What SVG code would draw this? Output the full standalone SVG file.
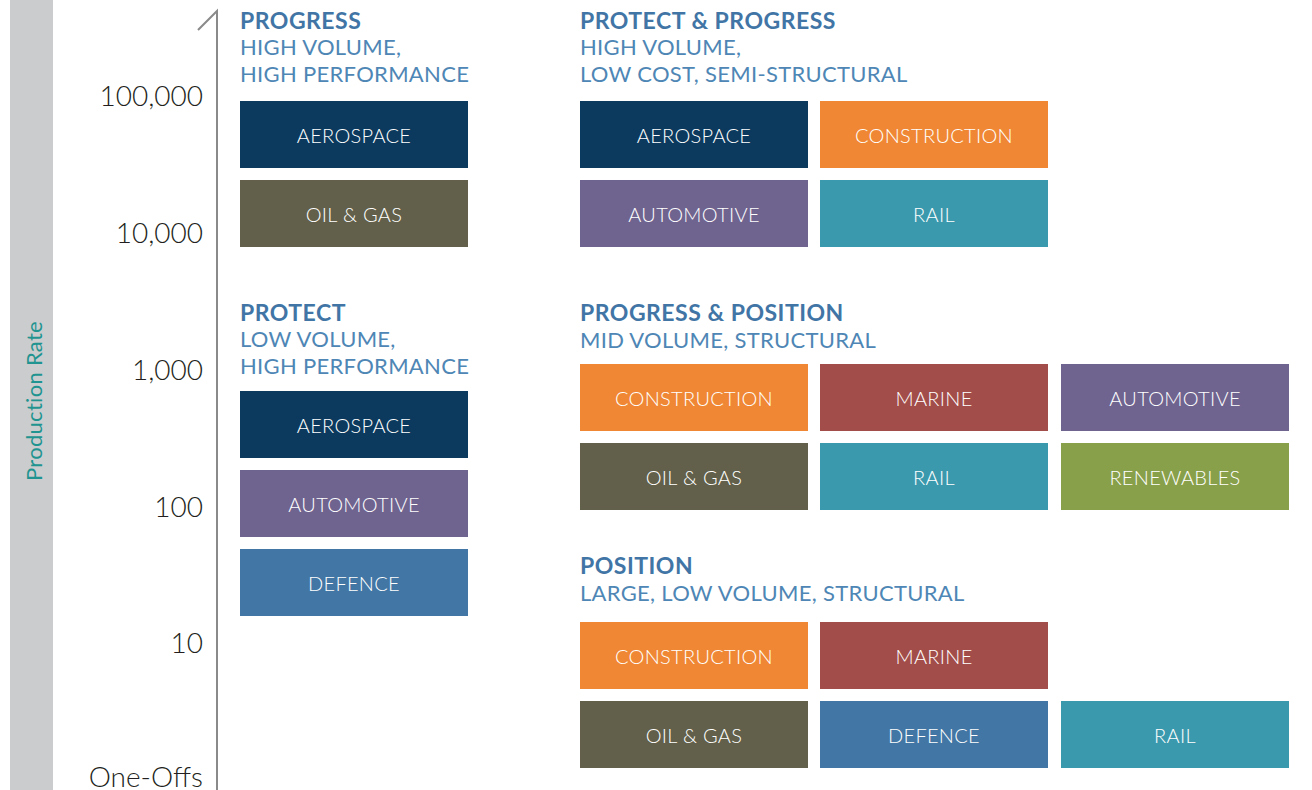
<svg xmlns="http://www.w3.org/2000/svg" width="1312" height="790" viewBox="0 0 1312 790">
<style>
.ax{font-family:Lato,"Open Sans",sans-serif;font-size:28px;fill:#231f20;text-anchor:end;font-weight:300}
.h{font-family:Lato,"Open Sans",sans-serif;font-size:23px;font-weight:700;fill:#4175a6;letter-spacing:0.5px}
.s{font-family:Lato,"Open Sans",sans-serif;font-size:22px;font-weight:400;fill:#4e86b5;letter-spacing:0.3px}
.b text{font-family:Lato,"Open Sans",sans-serif;font-size:20px;font-weight:300;fill:#ffffff;text-anchor:middle;dominant-baseline:central;letter-spacing:0.3px}
.aero{fill:#0b3a5e}.oil{fill:#62604a}.con{fill:#f08734}.auto{fill:#6f648f}.rail{fill:#3a99ad}.mar{fill:#a34d4a}.ren{fill:#89a04a}.def{fill:#4276a4}
</style>
<rect x="10" y="0" width="43" height="790" fill="#cbcccd"/>
<text transform="translate(42,401) rotate(-90)" font-family="Lato,'Open Sans',sans-serif" font-size="22" font-weight="400" letter-spacing="0.3" fill="#1f9490" text-anchor="middle">Production Rate</text>
<g id="axis" fill="none" stroke="#8a8a8a" stroke-width="2">
<path d="M217,790 L217,11 L198,30"/>
</g>
<g id="ticks">
<text class="ax" x="203" y="106">100,000</text>
<text class="ax" x="203" y="243">10,000</text>
<text class="ax" x="203" y="380">1,000</text>
<text class="ax" x="203" y="517">100</text>
<text class="ax" x="203" y="653">10</text>
<text class="ax" x="203" y="787">One-Offs</text>
</g>
<g id="headers">
<text class="h" x="240" y="29">PROGRESS</text>
<text class="s" x="240" y="55">HIGH VOLUME,</text>
<text class="s" x="240" y="82">HIGH PERFORMANCE</text>
<text class="h" x="240" y="321">PROTECT</text>
<text class="s" x="240" y="347">LOW VOLUME,</text>
<text class="s" x="240" y="374">HIGH PERFORMANCE</text>
<text class="h" x="580" y="29">PROTECT &amp; PROGRESS</text>
<text class="s" x="580" y="55">HIGH VOLUME,</text>
<text class="s" x="580" y="82">LOW COST, SEMI-STRUCTURAL</text>
<text class="h" x="580" y="321">PROGRESS &amp; POSITION</text>
<text class="s" x="580" y="348">MID VOLUME, STRUCTURAL</text>
<text class="h" x="580" y="574">POSITION</text>
<text class="s" x="580" y="601">LARGE, LOW VOLUME, STRUCTURAL</text>
</g>
<g id="n1" class="b"><rect class="aero" x="240" y="101" width="228" height="67"/><text x="354" y="135">AEROSPACE</text></g>
<g id="n2" class="b"><rect class="oil" x="240" y="180" width="228" height="67"/><text x="354" y="214">OIL &amp; GAS</text></g>
<g id="n3" class="b"><rect class="aero" x="240" y="391" width="228" height="67"/><text x="354" y="425">AEROSPACE</text></g>
<g id="n4" class="b"><rect class="auto" x="240" y="470" width="228" height="67"/><text x="354" y="504">AUTOMOTIVE</text></g>
<g id="n5" class="b"><rect class="def" x="240" y="549" width="228" height="67"/><text x="354" y="583">DEFENCE</text></g>
<g id="n6" class="b"><rect class="aero" x="580" y="101" width="228" height="67"/><text x="694" y="135">AEROSPACE</text></g>
<g id="n7" class="b"><rect class="con" x="820" y="101" width="228" height="67"/><text x="934" y="135">CONSTRUCTION</text></g>
<g id="n8" class="b"><rect class="auto" x="580" y="180" width="228" height="67"/><text x="694" y="214">AUTOMOTIVE</text></g>
<g id="n9" class="b"><rect class="rail" x="820" y="180" width="228" height="67"/><text x="934" y="214">RAIL</text></g>
<g id="n10" class="b"><rect class="con" x="580" y="364" width="228" height="67"/><text x="694" y="398">CONSTRUCTION</text></g>
<g id="n11" class="b"><rect class="mar" x="820" y="364" width="228" height="67"/><text x="934" y="398">MARINE</text></g>
<g id="n12" class="b"><rect class="auto" x="1061" y="364" width="228" height="67"/><text x="1175" y="398">AUTOMOTIVE</text></g>
<g id="n13" class="b"><rect class="oil" x="580" y="443" width="228" height="67"/><text x="694" y="477">OIL &amp; GAS</text></g>
<g id="n14" class="b"><rect class="rail" x="820" y="443" width="228" height="67"/><text x="934" y="477">RAIL</text></g>
<g id="n15" class="b"><rect class="ren" x="1061" y="443" width="228" height="67"/><text x="1175" y="477">RENEWABLES</text></g>
<g id="n16" class="b"><rect class="con" x="580" y="622" width="228" height="67"/><text x="694" y="656">CONSTRUCTION</text></g>
<g id="n17" class="b"><rect class="mar" x="820" y="622" width="228" height="67"/><text x="934" y="656">MARINE</text></g>
<g id="n18" class="b"><rect class="oil" x="580" y="701" width="228" height="67"/><text x="694" y="735">OIL &amp; GAS</text></g>
<g id="n19" class="b"><rect class="def" x="820" y="701" width="228" height="67"/><text x="934" y="735">DEFENCE</text></g>
<g id="n20" class="b"><rect class="rail" x="1061" y="701" width="228" height="67"/><text x="1175" y="735">RAIL</text></g>
<g id="connectors"></g>
</svg>
